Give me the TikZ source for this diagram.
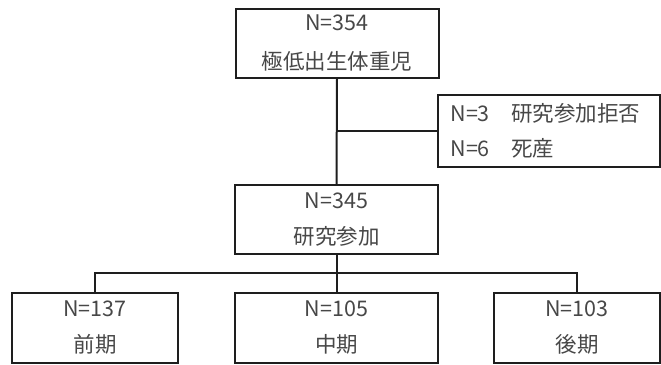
\documentclass[tikz,border=0pt]{standalone}
\usepackage{fontspec}
\setmainfont{Noto Sans CJK JP}
\definecolor{linec}{HTML}{1E1E1E}
\definecolor{txtc}{HTML}{474747}
\begin{document}
\begin{tikzpicture}[x=1pt,y=-1pt,
  box/.style={draw=linec, line width=2pt, inner sep=0pt, align=center, text=txtc,
    font=\fontsize{21.5}{37}\selectfont},
  conn/.style={draw=linec, line width=2pt}]
\useasboundingbox (0,0) rectangle (661,364);
\node[box, minimum width=203pt, minimum height=68.5pt, font=\fontsize{21.5}{38.5}\selectfont] (top) at (337,43.25) {N=354\\極低出生体重児};
\node[box, minimum width=222pt, minimum height=72pt, align=left, text width=197pt, inner xsep=12.5pt, font=\fontsize{21.5}{35.5}\selectfont] (side) at (549,131) {N=3　研究参加拒否\\N=6　死産};
\node[box, minimum width=203pt, minimum height=69pt, font=\fontsize{21.5}{36.5}\selectfont] (mid) at (336.5,219.5) {N=345\\研究参加};
\node[box, minimum width=166pt, minimum height=70pt, font=\fontsize{21.5}{36}\selectfont] (early) at (95,328) {N=137\\前期};
\node[box, minimum width=203pt, minimum height=70pt, font=\fontsize{21.5}{36}\selectfont] (middle) at (336.5,328) {N=105\\中期};
\node[box, minimum width=166pt, minimum height=70pt, font=\fontsize{21.5}{36}\selectfont] (late) at (577,328) {N=103\\後期};
\coordinate (bar) at (336.5,272.7);
\draw[conn] (top.south) -- (mid.north);
\draw[conn] (top.south |- side.west) -- (side.west);
\draw[conn] (mid.south) -- (middle.north);
\draw[conn] (early.north) |- (late.north |- bar) -- (late.north);
\end{tikzpicture}
\end{document}
